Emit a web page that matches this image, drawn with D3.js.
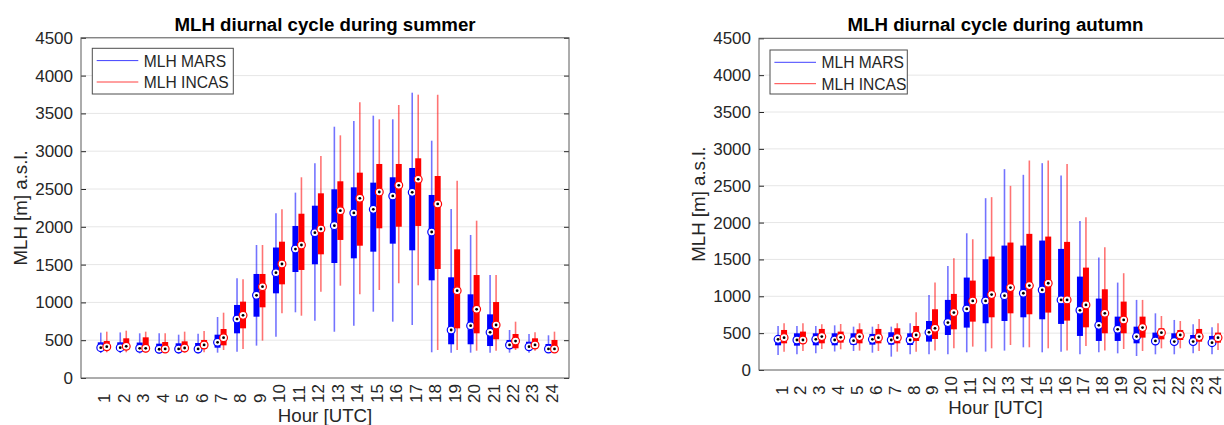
<!DOCTYPE html>
<html>
<head>
<meta charset="utf-8">
<script src="https://cdn.jsdelivr.net/npm/d3@7"></script>
<style>
  body { margin: 0; background: #fff; }
  svg { display: block; }
  text { font-family: "Liberation Sans", Arial, Helvetica, sans-serif; }
</style>
</head>
<body>
<svg id="chart" width="1224" height="425"></svg>
<script>
// ---- data ---------------------------------------------------------------
const hours = d3.range(1, 25);
const yTicks = [0, 500, 1000, 1500, 2000, 2500, 3000, 3500, 4000, 4500];
const seriesNames = ["MLH MARS", "MLH INCAS"];
const seriesColors = ["#0000ff", "#ff0000"];

// per hour: [lower whisker, Q1, median, Q3, upper whisker] in m a.s.l.
const summerMars = [
  [330, 365, 401, 472, 600], [330, 365, 401, 472, 603], [325, 360, 393, 469, 591],
  [320, 355, 380, 454, 591], [320, 355, 384, 459, 573], [325, 360, 384, 463, 586],
  [335, 401, 472, 573, 807], [348, 591, 780, 966, 1318], [428, 811, 1094, 1376, 1759],
  [547, 1120, 1393, 1726, 2178], [869, 1402, 1706, 2011, 2452], [758, 1504, 1922, 2279, 2840],
  [612, 1521, 2015, 2496, 3324], [692, 1583, 2183, 2522, 3400], [877, 1671, 2231, 2584, 3470],
  [745, 1777, 2408, 2655, 3422], [701, 1689, 2456, 2778, 3774], [340, 1292, 1931, 2421, 3139],
  [335, 446, 635, 1332, 2236], [335, 446, 692, 1107, 1892], [335, 423, 604, 842, 1362],
  [335, 393, 437, 503, 635], [335, 383, 414, 480, 582], [335, 370, 384, 450, 565]
];
const summerIncas = [
  [340, 375, 414, 489, 613], [340, 375, 419, 525, 626], [335, 370, 393, 538, 613],
  [330, 365, 384, 476, 591], [335, 370, 397, 485, 613], [340, 385, 437, 503, 622],
  [370, 432, 533, 648, 864], [384, 657, 829, 1010, 1305], [494, 935, 1208, 1376, 1759],
  [856, 1239, 1508, 1803, 2231], [824, 1429, 1759, 2173, 2655], [1142, 1636, 1971, 2443, 2937],
  [1221, 1826, 2213, 2602, 3210], [1107, 1750, 2377, 2716, 3647], [1164, 1980, 2460, 2831, 3422],
  [1253, 2001, 2549, 2831, 3611], [1226, 2011, 2628, 2906, 3748], [370, 1442, 2302, 2672, 3748],
  [370, 657, 1155, 1702, 2610], [361, 591, 909, 1362, 2081], [361, 512, 701, 1005, 1362],
  [370, 393, 489, 582, 745], [361, 390, 437, 525, 604], [355, 361, 384, 503, 613]
];
const autumnMars = [
  [204, 335, 416, 453, 597], [213, 330, 407, 498, 597], [226, 335, 416, 498, 597],
  [251, 335, 407, 498, 606], [258, 339, 398, 498, 588], [235, 344, 416, 489, 588],
  [181, 344, 407, 512, 588], [213, 339, 407, 498, 634], [213, 385, 511, 665, 1018],
  [213, 475, 643, 951, 1412], [240, 575, 828, 1254, 1855], [249, 634, 937, 1503, 2331],
  [263, 665, 1009, 1688, 2725], [308, 715, 1041, 1688, 2648], [240, 688, 1086, 1756, 2806],
  [249, 625, 951, 1643, 2639], [213, 462, 810, 1267, 2023], [240, 394, 606, 969, 1525],
  [226, 394, 552, 724, 1186], [190, 362, 453, 588, 951], [213, 362, 394, 507, 769],
  [213, 362, 385, 498, 679], [226, 362, 385, 475, 620], [213, 353, 371, 462, 579]
];
const autumnIncas = [
  [249, 362, 439, 543, 634], [258, 362, 407, 521, 634], [285, 362, 453, 557, 620],
  [281, 371, 443, 521, 624], [263, 362, 453, 552, 634], [258, 362, 439, 557, 624],
  [249, 362, 439, 566, 634], [249, 394, 475, 597, 783], [263, 421, 566, 824, 1186],
  [294, 552, 779, 1032, 1516], [317, 656, 937, 1213, 1774], [294, 715, 1023, 1539, 2345],
  [339, 769, 1118, 1729, 2498], [308, 756, 1145, 1847, 2842], [294, 779, 1177, 1810, 2842],
  [263, 670, 951, 1738, 2793], [326, 579, 883, 1389, 2073], [263, 498, 769, 1095, 1666],
  [285, 498, 679, 928, 1313], [258, 439, 575, 724, 951], [294, 416, 507, 566, 733],
  [294, 407, 475, 543, 665], [258, 384, 453, 557, 693], [272, 371, 439, 507, 634]
];

// ---- layout -------------------------------------------------------------
const panels = [
  { title: "MLH diurnal cycle during summer", series: [summerMars, summerIncas],
    left: 81, right: 569, top: 37.8, bottom: 378,
    legend: { x: 92.3, y: 48.3, w: 141, h: 45.7 } },
  { title: "MLH diurnal cycle during autumn", series: [autumnMars, autumnIncas],
    left: 759, right: 1232, top: 38.3, bottom: 370,
    legend: { x: 770, y: 50, w: 137.3, h: 44 } }
];

const svg = d3.select("#chart");
const axisColor = "#262626";

function drawPanel(p) {
  const g = svg.append("g");
  const x = d3.scaleLinear().domain([-0.17, 24.9]).range([p.left, p.right]);
  const y = d3.scaleLinear().domain([0, 4500]).range([p.bottom, p.top]);

  // horizontal grid
  g.append("g").selectAll("line").data(yTicks.slice(1)).join("line")
    .attr("x1", p.left).attr("x2", p.right)
    .attr("y1", d => y(d)).attr("y2", d => y(d))
    .attr("stroke", "#e6e6e6").attr("stroke-width", 1);

  // y axis (left, labelled; right, ticks only)
  const yAxis = g.append("g").attr("transform", `translate(${p.left},0)`)
    .call(d3.axisLeft(y).tickValues(yTicks).tickFormat(d3.format("d"))
      .tickSizeInner(-5).tickSizeOuter(0).tickPadding(8));
  yAxis.select(".domain").remove();
  yAxis.selectAll("line").attr("stroke", axisColor);
  yAxis.selectAll("text").attr("font-size", 17).attr("fill", axisColor)
    .attr("font-family", '"Liberation Sans", Arial, sans-serif');

  const yAxisR = g.append("g").attr("transform", `translate(${p.right},0)`)
    .call(d3.axisRight(y).tickValues(yTicks).tickSizeInner(-5).tickSizeOuter(0).tickFormat(""));
  yAxisR.select(".domain").remove();
  yAxisR.selectAll("line").attr("stroke", axisColor);

  // x axis: rotated hour labels
  const xAxis = g.append("g").attr("transform", `translate(0,${p.bottom})`)
    .call(d3.axisBottom(x).tickValues(hours).tickFormat(d3.format("d")).tickSize(0));
  xAxis.select(".domain").remove();
  xAxis.selectAll("text")
    .attr("font-size", 17).attr("fill", axisColor)
    .attr("font-family", '"Liberation Sans", Arial, sans-serif')
    .attr("transform", "rotate(-90)")
    .attr("text-anchor", "start")
    .attr("x", -25).attr("y", 0).attr("dy", "0.35em");

  // boxes: MARS left of the hour, INCAS right of it
  p.series.forEach((data, si) => {
    const off = si === 0 ? -3 : 3;
    const color = seriesColors[si];
    const sg = g.append("g");
    const rows = data.map((d, i) => ({ h: hours[i], lo: d[0], q1: d[1], med: d[2], q3: d[3], hi: d[4] }));

    sg.selectAll("line.whisker").data(rows).join("line").attr("class", "whisker")
      .attr("x1", d => x(d.h) + off).attr("x2", d => x(d.h) + off)
      .attr("y1", d => y(d.lo)).attr("y2", d => y(d.hi))
      .attr("stroke", color).attr("stroke-opacity", 0.55).attr("stroke-width", 1.6);

    sg.selectAll("rect").data(rows).join("rect")
      .attr("x", d => x(d.h) + off - 3).attr("width", 6)
      .attr("y", d => y(d.q3)).attr("height", d => y(d.q1) - y(d.q3))
      .attr("fill", color);

    sg.selectAll("circle.med").data(rows).join("circle").attr("class", "med")
      .attr("cx", d => x(d.h) + off).attr("cy", d => y(d.med)).attr("r", 3.9)
      .attr("fill", "#fff").attr("stroke", color).attr("stroke-width", 1.2);

    sg.selectAll("circle.dot").data(rows).join("circle").attr("class", "dot")
      .attr("cx", d => x(d.h) + off).attr("cy", d => y(d.med)).attr("r", 1.4)
      .attr("fill", "#000");
  });

  // axes frame
  g.append("rect")
    .attr("x", p.left).attr("y", p.top)
    .attr("width", p.right - p.left).attr("height", p.bottom - p.top)
    .attr("fill", "none").attr("stroke", "#5a5a5a").attr("stroke-width", 1);

  // legend
  const L = p.legend;
  const lg = g.append("g");
  lg.append("rect").attr("x", L.x).attr("y", L.y).attr("width", L.w).attr("height", L.h)
    .attr("fill", "#fff").attr("stroke", "#4d4d4d").attr("stroke-width", 1);
  seriesNames.forEach((name, i) => {
    const cy = L.y + 12.3 + i * 21.4;
    lg.append("line").attr("x1", L.x + 4.4).attr("x2", L.x + 46)
      .attr("y1", cy).attr("y2", cy)
      .attr("stroke", seriesColors[i]).attr("stroke-opacity", 0.75).attr("stroke-width", 1);
    lg.append("text").attr("x", L.x + 51.5).attr("y", cy + 6)
      .attr("font-size", 15.6).attr("fill", axisColor).text(name);
  });

  // title and axis labels
  const cx = (p.left + p.right) / 2;
  g.append("text").attr("x", cx).attr("y", 30.5).attr("text-anchor", "middle")
    .attr("font-size", 18.7).attr("font-weight", "bold").attr("fill", "#000").text(p.title);
  g.append("text").attr("x", cx).attr("y", p.bottom + 44).attr("text-anchor", "middle")
    .attr("font-size", 18.7).attr("fill", axisColor).text("Hour [UTC]");
  g.append("text")
    .attr("transform", `translate(${p.left - 54},${(p.top + p.bottom) / 2}) rotate(-90)`)
    .attr("text-anchor", "middle")
    .attr("font-size", 18.7).attr("fill", axisColor).text("MLH [m] a.s.l.");
}

panels.forEach(drawPanel);
</script>
</body>
</html>
